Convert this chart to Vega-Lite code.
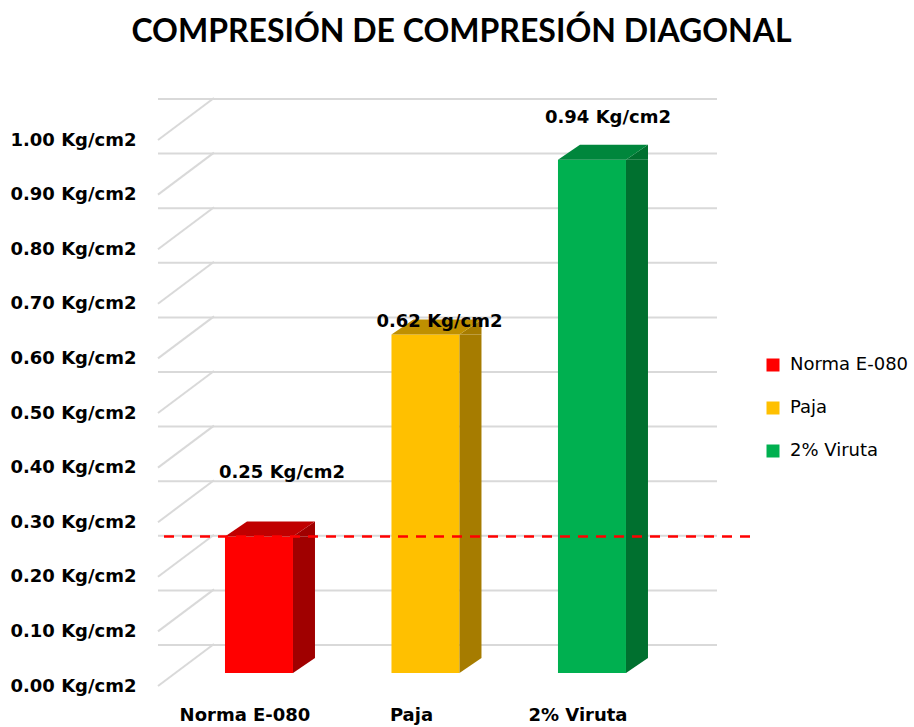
{
  "$schema": "https://vega.github.io/schema/vega-lite/v6.json",
  "width": 559,
  "height": 546,
  "autosize": {"type": "none"},
  "padding": {"left": 158, "top": 127, "right": 197, "bottom": 54},
  "background": "white",
  "config": {"view": {"stroke": null}, "font": "DejaVu Sans"},
  "title": {"text": "COMPRESIÓN DE COMPRESIÓN DIAGONAL", "fontSize": 32, "fontWeight": "bold", "font": "Lato", "color": "#000000", "anchor": "middle", "dx": 24, "offset": 45},
  "datasets": {
    "bars": [
      {"cat": "Norma E-080", "value": 0.25, "label": "0.25 Kg/cm2"},
      {"cat": "Paja", "value": 0.62, "label": "0.62 Kg/cm2"},
      {"cat": "2% Viruta", "value": 0.94, "label": "0.94 Kg/cm2"}
    ],
    "ticks": [
      {"t": 0}, {"t": 0.1}, {"t": 0.2}, {"t": 0.3}, {"t": 0.4}, {"t": 0.5},
      {"t": 0.6}, {"t": 0.7}, {"t": 0.8}, {"t": 0.9}, {"t": 1.0}
    ]
  },
  "resolve": {"scale": {"fill": "independent"}},
  "layer": [
    {
      "data": {"name": "ticks"},
      "mark": {"type": "rule", "color": "#D9D9D9", "strokeWidth": 2, "x2Offset": 55, "yOffset": -28},
      "encoding": {"y": {"field": "t", "type": "quantitative", "scale": {"domain": [0, 1], "nice": false},
              "axis": {"title": null, "domain": false, "ticks": false, "grid": false,
                       "values": [0, 0.1, 0.2, 0.3, 0.4, 0.5, 0.6, 0.7, 0.8, 0.9, 1.0],
                       "labelExpr": "format(datum.value, '.2f') + ' Kg/cm2'",
                       "labelPadding": 22, "labelOffset": 13,
                       "labelFont": "DejaVu Sans", "labelFontSize": 18, "labelFontWeight": "bold", "labelColor": "#000000"}}}
    },
    {
      "data": {"name": "ticks"},
      "mark": {"type": "point", "shape": "M-1,0.75L1,-0.75", "size": 3136, "filled": false, "stroke": "#D9D9D9", "strokeWidth": 2, "opacity": 1, "xOffset": -251.5, "yOffset": -8},
      "encoding": {"y": {"field": "t", "type": "quantitative"}}
    },
    {
      "data": {"name": "bars"},
      "mark": {"type": "bar", "width": 68},
      "encoding": {
        "x": {"field": "cat", "type": "nominal", "sort": ["Norma E-080", "Paja", "2% Viruta"],
              "scale": {"paddingInner": 0, "paddingOuter": 0.1787, "align": 0.298},
              "axis": {"title": null, "domain": false, "ticks": false, "labelAngle": 0, "labelPadding": 33, "labelOffset": -14,
                       "labelFont": "DejaVu Sans", "labelFontSize": 18, "labelFontWeight": "bold", "labelColor": "#000000"}},
        "y": {"field": "value", "type": "quantitative"},
        "fill": {"field": "cat", "type": "nominal",
                 "scale": {"domain": ["Norma E-080", "Paja", "2% Viruta"], "range": ["#FF0000", "#FFC000", "#00B050"]},
                 "legend": {"orient": "none", "legendX": 606, "legendY": 229, "title": null, "symbolType": "square", "symbolSize": 169,
                            "labelFontSize": 18, "labelFont": "DejaVu Sans", "rowPadding": 25, "labelOffset": 8, "symbolStrokeWidth": 0, "labelColor": "#000000"}}
      }
    },
    {
      "data": {"name": "bars"},
      "mark": {"type": "bar", "width": 22, "xOffset": 45, "y2Offset": -15},
      "encoding": {
        "x": {"field": "cat", "type": "nominal", "sort": ["Norma E-080", "Paja", "2% Viruta"]},
        "y": {"field": "value", "type": "quantitative"},
        "y2": {"datum": 0},
        "fill": {"field": "cat", "type": "nominal", "scale": {"domain": ["Norma E-080", "Paja", "2% Viruta"], "range": ["#A00000", "#A67C00", "#00702F"]}, "legend": null}
      }
    },
    {
      "data": {"name": "bars"},
      "mark": {"type": "point", "shape": "M34,0L56,-15L56,0Z", "size": 4, "filled": true, "opacity": 1, "strokeWidth": 0},
      "encoding": {
        "x": {"field": "cat", "type": "nominal", "sort": ["Norma E-080", "Paja", "2% Viruta"]},
        "y": {"field": "value", "type": "quantitative"},
        "fill": {"field": "cat", "type": "nominal", "scale": {"domain": ["Norma E-080", "Paja", "2% Viruta"], "range": ["#A00000", "#A67C00", "#00702F"]}, "legend": null}
      }
    },
    {
      "data": {"name": "bars"},
      "mark": {"type": "point", "shape": "M34,0L34,-15L56,-15Z", "size": 4, "filled": true, "opacity": 1, "strokeWidth": 0},
      "encoding": {
        "x": {"field": "cat", "type": "nominal", "sort": ["Norma E-080", "Paja", "2% Viruta"]},
        "y": {"datum": 0, "type": "quantitative"},
        "fill": {"field": "cat", "type": "nominal", "scale": {"domain": ["Norma E-080", "Paja", "2% Viruta"], "range": ["#A00000", "#A67C00", "#00702F"]}, "legend": null}
      }
    },
    {
      "data": {"name": "bars"},
      "mark": {"type": "point", "shape": "M-34,0L34,0L56,-15L-12,-15Z", "size": 4, "filled": true, "opacity": 1, "strokeWidth": 0},
      "encoding": {
        "x": {"field": "cat", "type": "nominal", "sort": ["Norma E-080", "Paja", "2% Viruta"]},
        "y": {"field": "value", "type": "quantitative"},
        "fill": {"field": "cat", "type": "nominal", "scale": {"domain": ["Norma E-080", "Paja", "2% Viruta"], "range": ["#C00000", "#BF9000", "#00863C"]}, "legend": null}
      }
    },
    {
      "data": {"name": "bars"},
      "transform": [{"filter": "datum.cat === 'Norma E-080'"}],
      "mark": {"type": "rule", "color": "#FF0000", "strokeWidth": 2.5, "strokeDash": [10, 8], "xOffset": 33, "x2Offset": 70},
      "encoding": {"y": {"field": "value", "type": "quantitative"}}
    },
    {
      "data": {"name": "bars"},
      "transform": [{"filter": "datum.cat === 'Norma E-080'"}],
      "mark": {"type": "text", "font": "DejaVu Sans", "fontSize": 18, "fontWeight": "bold", "color": "#000000", "baseline": "middle", "dx": 23, "dy": -64},
      "encoding": {
        "x": {"field": "cat", "type": "nominal", "sort": ["Norma E-080", "Paja", "2% Viruta"]},
        "y": {"field": "value", "type": "quantitative"},
        "text": {"field": "label"}
      }
    },
    {
      "data": {"name": "bars"},
      "transform": [{"filter": "datum.cat === 'Paja'"}],
      "mark": {"type": "text", "font": "DejaVu Sans", "fontSize": 18, "fontWeight": "bold", "color": "#000000", "baseline": "middle", "dx": 14, "dy": -12},
      "encoding": {
        "x": {"field": "cat", "type": "nominal", "sort": ["Norma E-080", "Paja", "2% Viruta"]},
        "y": {"field": "value", "type": "quantitative"},
        "text": {"field": "label"}
      }
    },
    {
      "data": {"name": "bars"},
      "transform": [{"filter": "datum.cat === '2% Viruta'"}],
      "mark": {"type": "text", "font": "DejaVu Sans", "fontSize": 18, "fontWeight": "bold", "color": "#000000", "baseline": "middle", "dx": 16, "dy": -42},
      "encoding": {
        "x": {"field": "cat", "type": "nominal", "sort": ["Norma E-080", "Paja", "2% Viruta"]},
        "y": {"field": "value", "type": "quantitative"},
        "text": {"field": "label"}
      }
    }
  ]
}
